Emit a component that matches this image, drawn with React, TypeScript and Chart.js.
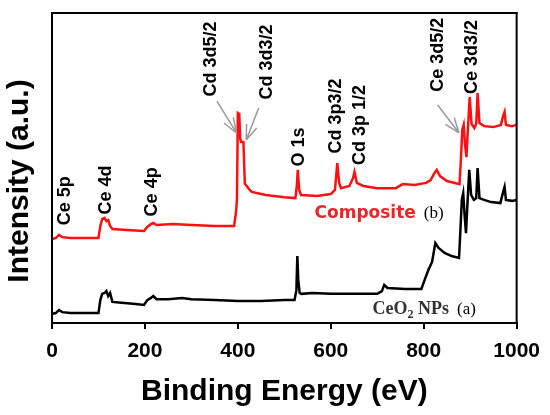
import React, { useEffect, useRef } from 'react';
import Chart from 'chart.js/auto';

// CeO2 NPs (a) — binding energy (eV) and intensity (a.u.)
const ceo2Energy = [
  0, 8, 15, 22, 40, 100, 104, 108, 113, 117, 121, 125, 130, 150, 180, 198, 205, 213, 218, 225,
  250, 280, 300, 350, 400, 450, 500, 522, 526, 528, 530, 533, 537, 560, 600, 650, 700, 710, 715,
  722, 760, 795, 802, 810, 818, 825, 832, 845, 860, 876, 879, 882, 885, 888, 891, 894, 898, 902,
  908, 913, 916, 920, 930, 945, 965, 971, 974, 977, 990, 1000,
];
const ceo2Intensity = [
  2.9, 3.2, 4.2, 3.5, 3.2, 3.2, 7.4, 9.4, 9.7, 10.3, 8.7, 9.7, 6.8, 6.5, 6.1, 5.8, 7.4, 8.1, 8.7, 7.7,
  7.7, 8.1, 7.7, 7.4, 7.1, 7.1, 7.4, 7.4, 10.6, 21.6, 13.9, 9.7, 9.4, 9.7, 9.4, 9.4, 9.4, 10.3, 12.3,
  11.3, 11.0, 11.0, 13.9, 17.1, 19.7, 25.8, 24.2, 22.6, 21.6, 21.0, 30.0, 39.7, 41.9, 34.8, 29.0, 38.1, 49.4, 41.3,
  39.7, 40.3, 50.0, 40.3, 39.7, 39.0, 38.7, 42.3, 43.9, 39.7, 39.4, 39.7,
];

// Composite (b)
const compEnergy = [
  0, 8, 15, 22, 40, 100, 104, 108, 113, 117, 121, 125, 130, 160, 198, 205, 213, 218, 225, 260,
  300, 350, 392, 396, 398, 400, 403, 405, 407, 412, 415, 424, 430, 460, 500, 524, 527, 529, 532,
  536, 570, 600, 609, 614, 618, 622, 640, 648, 651, 656, 670, 700, 740, 755, 780, 805, 815, 822,
  828, 835, 850, 877, 880, 883, 886, 889, 892, 895, 899, 903, 909, 913, 916, 920, 930, 950, 966,
  971, 974, 977, 990, 1000,
];
const compIntensity = [
  27.1, 27.4, 28.4, 27.7, 27.4, 27.4, 31.3, 33.5, 33.9, 32.9, 33.2, 31.3, 30.3, 30.0, 29.7, 31.0, 31.9, 32.3, 31.6, 31.9,
  31.6, 31.3, 31.3, 35.8, 39.7, 67.7, 67.4, 59.5, 58.4, 58.4, 45.0, 43.2, 42.3, 41.3, 40.6, 40.3, 44.5, 49.4, 42.9,
  41.3, 41.0, 41.6, 42.9, 51.6, 45.2, 43.5, 44.2, 46.8, 48.7, 45.2, 44.2, 43.5, 43.5, 44.8, 44.5, 45.2, 46.1, 48.1,
  49.4, 47.4, 45.8, 44.8, 52.6, 62.3, 63.9, 57.4, 53.5, 62.3, 72.9, 64.2, 62.9, 64.2, 74.2, 64.5, 63.5, 63.2, 63.9,
  66.8, 68.1, 63.9, 63.5, 63.9,
];

const xTicks = [0, 200, 400, 600, 800, 1000];

// peak labels: text, energy, intensity at label centre
const peakLabels = ['Ce 5p', 'Ce 4d', 'Ce 4p', 'Cd 3d5/2', 'Cd 3d3/2', 'O 1s', 'Cd 3p3/2', 'Cd 3p 1/2', 'Ce 3d5/2', 'Ce 3d3/2'];
const peakLabelEnergy = [28, 116, 216, 343, 463, 532, 612, 664, 830, 903];
const peakLabelIntensity = [39.4, 42.9, 42.3, 85.2, 84.2, 56.8, 66.8, 63.9, 86.5, 85.8];

// arrows: [tailE, tailI, tipE, tipI]
const arrows = [
  [355, 71.6, 397, 61.3],
  [445, 69.4, 418, 59.0],
  [830, 70.3, 876, 61.3],
];

const FONT = "'Liberation Sans', Arial, sans-serif";

const toPoints = (e: number[], v: number[]) => e.map((x, i) => ({ x, y: v[i] }));

const decor = {
  id: 'decor',
  afterDraw(chart: any) {
    const { ctx, scales, chartArea } = chart;
    const sx = scales.x, sy = scales.y;
    const L = chartArea.left, T = chartArea.top, R = chartArea.right, B = chartArea.bottom;
    ctx.save();

    // box frame
    ctx.fillStyle = '#000';
    ctx.fillRect(L - 1, T - 1, R - L + 2, 2);
    ctx.fillRect(R - 1, T - 1, 2, B - T + 2);
    ctx.fillRect(L - 1, T - 1, 2, B - T + 2);

    // y title
    ctx.save();
    ctx.translate(20, 181);
    ctx.rotate(-Math.PI / 2);
    ctx.font = `bold 30px ${FONT}`;
    ctx.fillStyle = '#000';
    ctx.textAlign = 'center';
    ctx.textBaseline = 'middle';
    ctx.fillText('Intensity (a.u.)', 0, 0);
    ctx.restore();

    // arrows
    ctx.strokeStyle = '#9a9a9a';
    ctx.lineWidth = 1.5;
    arrows.forEach(([e0, i0, e1, i1]) => {
      const x0 = sx.getPixelForValue(e0), y0 = sy.getPixelForValue(i0);
      const x1 = sx.getPixelForValue(e1), y1 = sy.getPixelForValue(i1);
      const ang = Math.atan2(y1 - y0, x1 - x0);
      ctx.beginPath();
      ctx.moveTo(x0, y0);
      ctx.lineTo(x1, y1);
      [-0.35, 0.35].forEach((d) => {
        ctx.moveTo(x1, y1);
        ctx.lineTo(x1 - 16 * Math.cos(ang + d), y1 - 16 * Math.sin(ang + d));
      });
      ctx.stroke();
    });

    // peak labels
    ctx.fillStyle = '#000';
    ctx.font = `bold 18px ${FONT}`;
    ctx.textAlign = 'center';
    ctx.textBaseline = 'middle';
    peakLabels.forEach((t, i) => {
      ctx.save();
      ctx.translate(sx.getPixelForValue(peakLabelEnergy[i]), sy.getPixelForValue(peakLabelIntensity[i]));
      ctx.rotate(-Math.PI / 2);
      ctx.fillText(t, 0, 0);
      ctx.restore();
    });

    // series names
    ctx.textAlign = 'left';
    ctx.textBaseline = 'alphabetic';
    let x = sx.getPixelForValue(565);
    let y = sy.getPixelForValue(34);
    ctx.font = "bold 17px 'DejaVu Sans', sans-serif";
    ctx.fillStyle = '#e8262b';
    ctx.fillText('Composite', x, y);
    x += ctx.measureText('Composite').width + 8;
    ctx.font = "17px 'Liberation Serif', serif";
    ctx.fillStyle = '#000';
    ctx.fillText('(b)', x, y);

    x = sx.getPixelForValue(690);
    y = sy.getPixelForValue(2.9);
    ctx.fillStyle = '#333';
    ctx.font = "bold 18px 'Liberation Serif', serif";
    ctx.fillText('CeO', x, y);
    x += ctx.measureText('CeO').width;
    ctx.font = "bold 12px 'Liberation Serif', serif";
    ctx.fillText('2', x, y + 4);
    x += ctx.measureText('2').width;
    ctx.font = "bold 18px 'Liberation Serif', serif";
    ctx.fillText(' NPs', x, y);
    x += ctx.measureText(' NPs').width + 8;
    ctx.fillStyle = '#000';
    ctx.font = "17px 'Liberation Serif', serif";
    ctx.fillText('(a)', x, y);
    ctx.restore();
  },
};

const App: React.FC = () => {
  const chartRef = useRef<HTMLCanvasElement | null>(null);

  useEffect(() => {
    if (!chartRef.current) return;
    const chart = new Chart(chartRef.current, {
      type: 'line',
      data: {
        datasets: [
          {
            label: 'CeO2 NPs',
            data: toPoints(ceo2Energy, ceo2Intensity),
            borderColor: '#000',
            borderWidth: 2.5,
            pointRadius: 0,
            tension: 0,
          },
          {
            label: 'Composite',
            data: toPoints(compEnergy, compIntensity),
            borderColor: '#ff1010',
            borderWidth: 2.5,
            pointRadius: 0,
            tension: 0,
          },
        ],
      },
      options: {
        animation: false,
        responsive: true,
        maintainAspectRatio: false,
        layout: { padding: { top: 13, right: 32, left: 0, bottom: 0 } },
        plugins: { legend: { display: false }, tooltip: { enabled: false } },
        scales: {
          x: {
            type: 'linear',
            position: 'bottom',
            min: 0,
            max: 1000,
            afterBuildTicks: (s: any) => {
              s.ticks = xTicks.map((v) => ({ value: v }));
            },
            afterFit: (s: any) => {
              s.height = 92;
            },
            grid: { drawOnChartArea: false, drawTicks: true, tickLength: 6, color: '#000', lineWidth: 2 },
            border: { display: true, color: '#000', width: 2 },
            ticks: {
              font: { family: FONT, size: 21, weight: 'bold' },
              color: '#000',
              padding: 10,
              maxRotation: 0,
              callback: (v: any) => String(v),
            },
            title: {
              display: true,
              text: 'Binding Energy (eV)',
              font: { family: FONT, size: 30, weight: 'bold' },
              color: '#000',
              padding: { top: 0, bottom: 5 },
            },
          },
          y: {
            position: 'left',
            min: 0,
            max: 100,
            afterFit: (s: any) => {
              s.width = 52;
            },
            grid: { display: false },
            border: { display: false },
            ticks: { display: false },
          },
        },
      },
      plugins: [decor],
    });
    return () => chart.destroy();
  }, []);

  return (
    <div style={{ position: 'fixed', left: 0, top: 0, width: 550, height: 415, background: '#fff' }}>
      <canvas ref={chartRef} />
    </div>
  );
};

export default App;
